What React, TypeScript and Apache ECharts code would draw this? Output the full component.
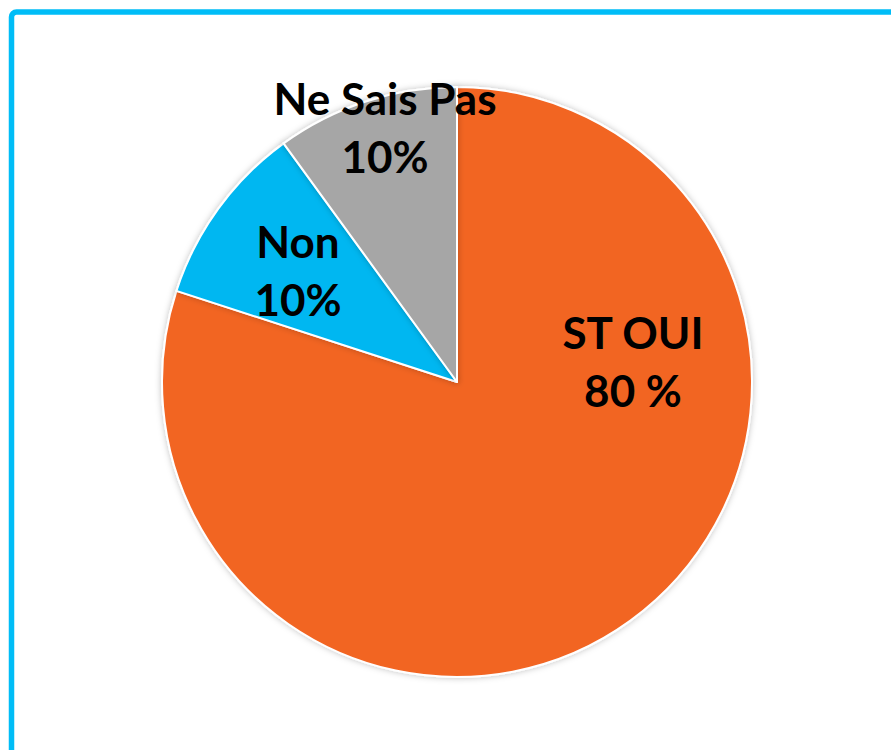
import React, { useEffect, useRef } from "react";
import * as echarts from "echarts";

const categories = ["ST OUI", "Non", "Ne Sais Pas"];
const values = [80, 10, 10];
const valueLabels = ["80 %", "10%", "10%"];
const colors = ["#F26524", "#00B7F1", "#A6A6A6"];
const labelCenters = [
  [633, 361],
  [298, 270],
  [385, 127],
];

export default function App() {
  const ref = useRef<HTMLDivElement>(null);
  useEffect(() => {
    if (!ref.current) return;
    const chart = echarts.init(ref.current, null, { renderer: "svg" });
    chart.setOption({
      animation: false,
      backgroundColor: "#ffffff",
      graphic: [
        {
          type: "rect",
          shape: { x: 11.5, y: 12, width: 1000, height: 1000, r: 5 },
          style: { fill: "none", stroke: "#00BDF7", lineWidth: 5.5 },
          z: 10,
        },
      ],
      series: [
        {
          type: "pie",
          center: [457, 382],
          radius: 295,
          startAngle: 90,
          clockwise: true,
          data: categories.map((name, i) => ({
            name,
            value: values[i],
            itemStyle: { color: colors[i] },
          })),
          itemStyle: {
            borderColor: "#ffffff",
            borderWidth: 2,
            shadowBlur: 6,
            shadowColor: "rgba(0,0,0,0.25)",
          },
          label: {
            show: true,
            position: "inside",
            formatter: (p: any) => `${p.name}\n${valueLabels[p.dataIndex]}`,
            fontFamily: "Lato, 'Open Sans', sans-serif",
            fontWeight: "bold",
            fontSize: 44,
            lineHeight: 58,
            color: "#000000",
            align: "center",
          },
          labelLine: { show: false },
          labelLayout: (p: any) => ({
            x: labelCenters[p.dataIndex][0],
            y: labelCenters[p.dataIndex][1],
            align: "center",
            verticalAlign: "middle",
          }),
          emphasis: { disabled: true },
        },
      ],
    });
    return () => chart.dispose();
  }, []);
  return (
    <div
      ref={ref}
      style={{ position: "fixed", left: 0, top: 0, width: 891, height: 750 }}
    />
  );
}
